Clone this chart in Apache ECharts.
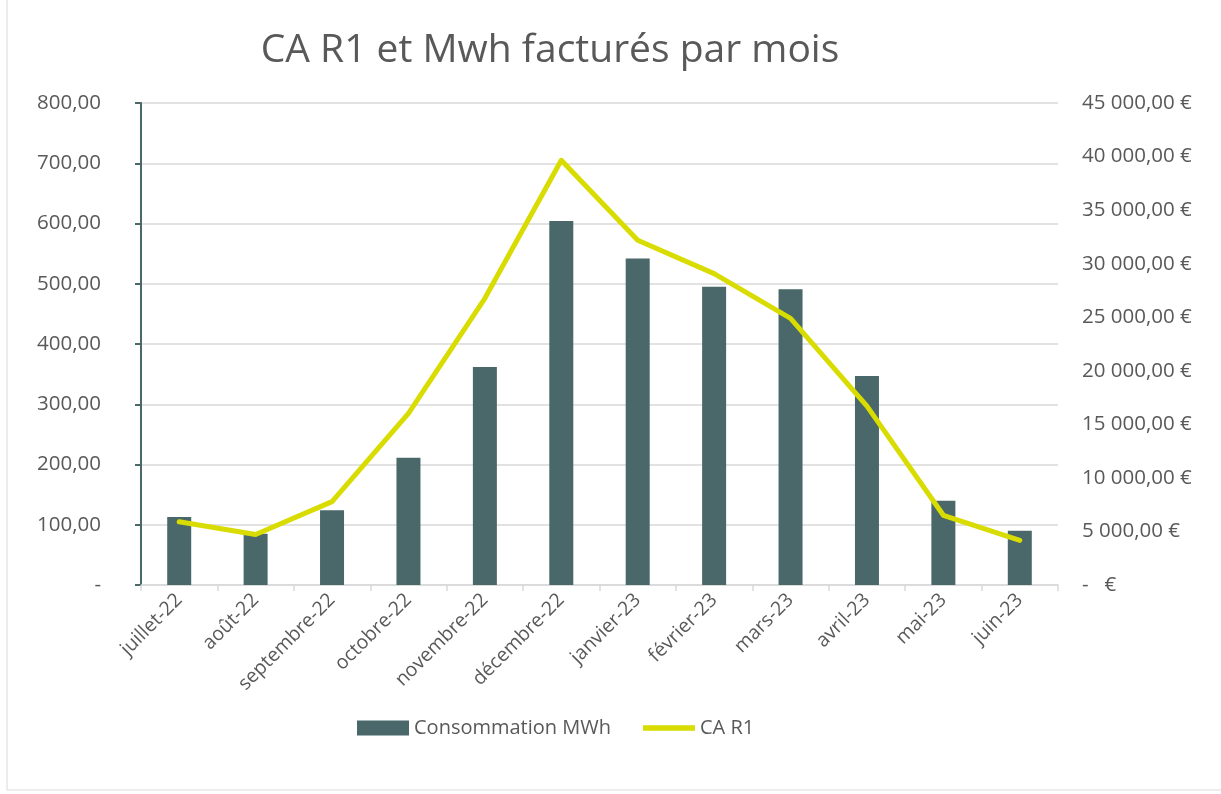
<!DOCTYPE html>
<html>
<head>
<meta charset="utf-8">
<script src="https://cdn.jsdelivr.net/npm/echarts@6/dist/echarts.min.js"></script>
<style>
  html, body { margin: 0; padding: 0; background: #fff; }
  #chart { width: 1221px; height: 794px; }
</style>
</head>
<body>
<div id="chart"></div>
<script>
// months on the x axis
var months = ['juillet-22', 'août-22', 'septembre-22', 'octobre-22', 'novembre-22', 'décembre-22',
  'janvier-23', 'février-23', 'mars-23', 'avril-23', 'mai-23', 'juin-23'];
// consommation (MWh), left axis
var consommation = [113, 85, 124, 211, 362, 604, 542, 495, 491, 347, 140, 90];
// chiffre d'affaires (€), right axis
var caR1 = [5900, 4720, 7780, 16030, 26770, 39650, 32180, 29070, 24900, 16700, 6510, 4170];

var textColor = '#595959';
var font = 'Open Sans';

function frNumber(v) {
  var parts = v.toFixed(2).split('.');
  var ent = parts[0].replace(/\B(?=(\d{3})+(?!\d))/g, ' ');
  return ent + ',' + parts[1];
}

var chart = echarts.init(document.getElementById('chart'));
chart.setOption({
  backgroundColor: '#fff',
  animation: false,
  title: {
    text: 'CA R1 et Mwh facturés par mois',
    left: 545,
    textAlign: 'center',
    top: 26,
    textStyle: { color: textColor, fontSize: 39, fontWeight: 'normal', fontFamily: font }
  },
  graphic: [{
    type: 'rect',
    shape: { x: 7, y: -2, width: 1230, height: 792 },
    style: { fill: 'none', stroke: '#d9d9d9', lineWidth: 1 },
    silent: true
  }],
  legend: {
    top: 713,
    left: 352,
    itemWidth: 52,
    itemHeight: 15,
    itemGap: 32,
    textStyle: { color: textColor, fontSize: 20, fontFamily: font },
    data: [
      { name: 'Consommation MWh', icon: 'rect' },
      { name: 'CA R1', icon: 'path://M0,0 H56 V6 H0 Z' }
    ]
  },
  grid: { left: 141, right: 163, top: 103, bottom: 209 },
  xAxis: {
    type: 'category',
    data: months,
    boundaryGap: true,
    axisLine: { lineStyle: { color: '#d9d9d9', width: 1.5 } },
    axisTick: { show: true, length: 6, lineStyle: { color: '#d9d9d9', width: 1.5 } },
    axisLabel: {
      rotate: 45,
      color: textColor,
      fontSize: 19.5,
      fontFamily: font,
      margin: 12,
      interval: 0
    }
  },
  yAxis: [{
    type: 'value',
    min: 0,
    max: 800,
    interval: 100,
    axisLine: { show: true, lineStyle: { color: '#4a6869', width: 2 } },
    axisTick: { show: true, length: 6, lineStyle: { color: '#4a6869', width: 2 } },
    splitLine: { lineStyle: { color: '#d9d9d9', width: 1.5 } },
    axisLabel: {
      color: textColor,
      fontSize: 20.5,
      fontFamily: font,
      margin: 40,
      formatter: function (v) { return v === 0 ? '-' : frNumber(v); }
    }
  }, {
    type: 'value',
    min: 0,
    max: 45000,
    interval: 5000,
    position: 'right',
    axisLine: { show: false },
    axisTick: { show: false },
    splitLine: { show: false },
    axisLabel: {
      color: textColor,
      fontSize: 20.5,
      fontFamily: font,
      margin: 24,
      formatter: function (v) { return v === 0 ? '-   €' : frNumber(v) + ' €'; }
    }
  }],
  series: [{
    name: 'Consommation MWh',
    type: 'bar',
    data: consommation,
    barWidth: 24,
    itemStyle: { color: '#4a6869' },
    yAxisIndex: 0
  }, {
    name: 'CA R1',
    type: 'line',
    data: caR1,
    yAxisIndex: 1,
    symbol: 'none',
    lineStyle: { color: '#d9dc00', width: 5, cap: 'round', join: 'round' },
    itemStyle: { color: '#d9dc00' }
  }]
});
</script>
</body>
</html>
